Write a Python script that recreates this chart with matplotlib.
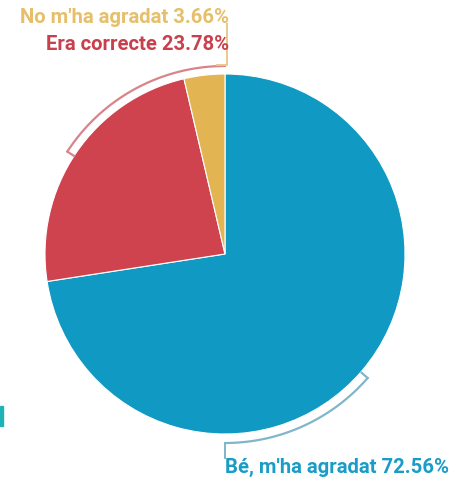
#!/usr/bin/env python3
"""
plot.py - pie chart of survey answers
"""

import numpy as np
import matplotlib
matplotlib.use("Agg")
from matplotlib import pyplot as plt
from matplotlib.patches import Rectangle

labels = ["Bé, m'ha agradat", "Era correcte", "No m'ha agradat"]
shares = [72.56, 23.78, 3.66]
colors = ["#0f99c3", "#cf434f", "#e2b552"]

W, H = 458, 479


def arc(ax, r, a0, a1, color, cx, cy):
    t = np.radians(np.linspace(a0, a1, 80))
    ax.plot(cx + r * np.cos(t), cy + r * np.sin(t), color=color, lw=1.6,
            solid_capstyle="round")


def main():
    fig = plt.figure(figsize=(W / 100, H / 100), dpi=100)
    ax = fig.add_axes([0, 0, 1, 1])

    cx, cy, r = 225, H - 254, 180
    ax.pie(shares, colors=colors, startangle=90, counterclock=False,
           center=(cx, cy), radius=r, frame=True,
           wedgeprops=dict(edgecolor="white", linewidth=0.8))
    ax.set_xlim(0, W)
    ax.set_ylim(0, H)
    ax.set_aspect("equal")
    ax.axis("off")

    font = ["Roboto", "DejaVu Sans"]

    # red bracket
    arc(ax, 188, 90, 147, "#d9838a", cx, cy)
    a = np.radians(147)
    ax.plot([cx + 188 * np.cos(a), cx + 180 * np.cos(a)],
            [cy + 188 * np.sin(a), cy + 180 * np.sin(a)], color="#d9838a", lw=1.6)
    # yellow leader
    ax.plot([cx + 2, cx + 2, cx - 8], [H - 24, cy + 189, cy + 189],
            color="#e8c98a", lw=1.4)

    # blue bracket
    arc(ax, 189, -41, -90, "#7fb6c9", cx, cy)
    a = np.radians(-41)
    ax.plot([cx + 189 * np.cos(a), cx + 181 * np.cos(a)],
            [cy + 189 * np.sin(a), cy + 181 * np.sin(a)], color="#7fb6c9", lw=1.6)
    ax.plot([cx, cx], [cy - 189, H - 458], color="#7fb6c9", lw=1.4)

    fs = 14.6
    ax.text(229, H - 17, f"{labels[2]} {shares[2]:.2f}%", color="#e6bf6a",
            fontsize=fs, fontweight="bold", family=font, ha="right", va="center")
    ax.text(229, H - 44, f"{labels[1]} {shares[1]:.2f}%", color="#c9404d",
            fontsize=fs, fontweight="bold", family=font, ha="right", va="center")
    ax.text(225, H - 467, f"{labels[0]} {shares[0]:.2f}%", color="#1a9cc7",
            fontsize=fs, fontweight="bold", family=font, ha="left", va="center")

    fig.patches.append(Rectangle((0, 1 - 426 / H), 3 / W, 20 / H,
                                 transform=fig.transFigure, color="#1fb3b8"))

    fig.savefig("out.png", dpi=100)


if __name__ == '__main__':
    main()
